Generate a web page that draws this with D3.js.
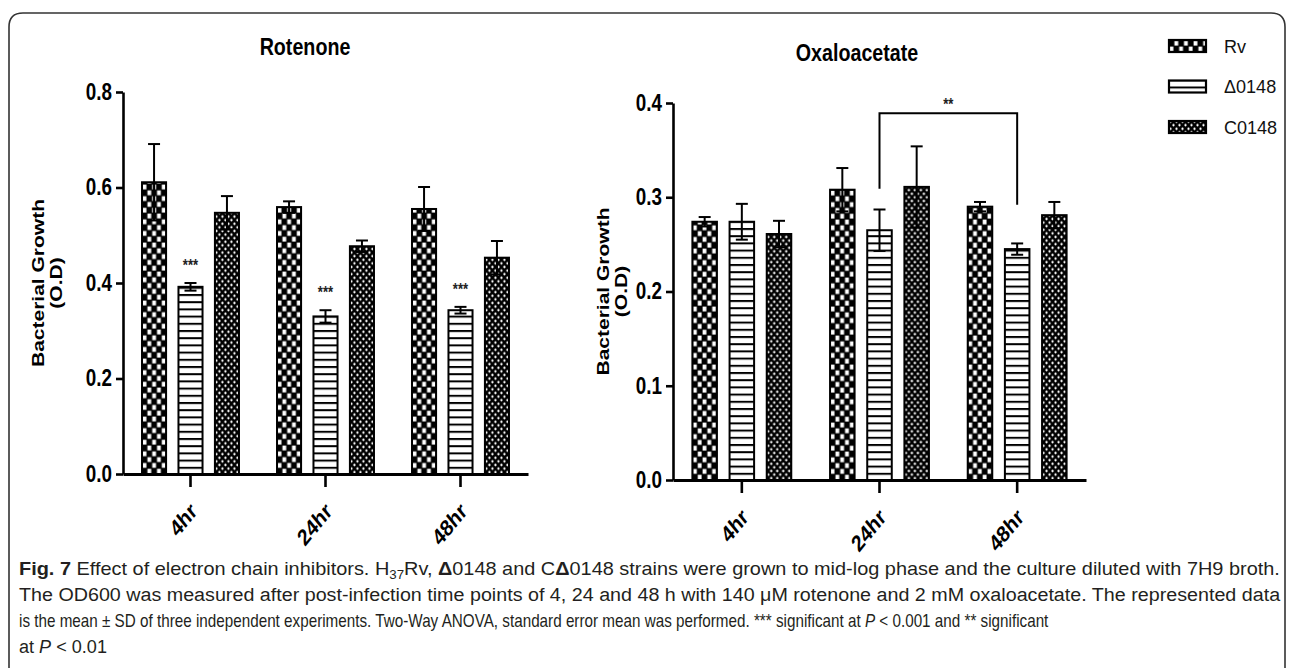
<!DOCTYPE html>
<html>
<head>
<meta charset="utf-8">
<script src="https://cdn.jsdelivr.net/npm/d3@7"></script>
<style>
  body { margin: 0; background: #fff; }
  svg { display: block; }
</style>
</head>
<body>
<svg id="fig" width="1292" height="668"></svg>
<script>
const groups = ["4hr", "24hr", "48hr"];
const strains = ["Rv", "Δ0148", "C0148"];

// Rotenone: mean O.D and SD per time point
const rotRv = [0.611, 0.559, 0.555];
const rotDel = [0.392, 0.330, 0.343];
const rotComp = [0.547, 0.477, 0.453];
const rotRvSd = [0.080, 0.012, 0.046];
const rotDelSd = [0.008, 0.013, 0.007];
const rotCompSd = [0.035, 0.012, 0.035];
const rotTicks = [0, 0.2, 0.4, 0.6, 0.8];
const rotStars = ["***", "***", "***"];   // over Δ0148 bars

// Oxaloacetate
const oxaRv = [0.274, 0.308, 0.290];
const oxaDel = [0.274, 0.265, 0.245];
const oxaComp = [0.261, 0.311, 0.281];
const oxaRvSd = [0.005, 0.023, 0.005];
const oxaDelSd = [0.019, 0.022, 0.006];
const oxaCompSd = [0.014, 0.043, 0.014];
const oxaTicks = [0, 0.1, 0.2, 0.3, 0.4];
// bracket between Δ0148 at 24hr and 48hr
const oxaBracketGroups = ["24hr", "48hr"];
const oxaBracketLevel = 0.389;
const oxaBracketFeet = [0.309, 0.292];
const oxaBracketLabel = "**";

const FONT = "'Liberation Sans', Arial, sans-serif";
const SX = 0.82;   // the original figure is squeezed sideways

const svg = d3.select("#fig");
const defs = svg.append("defs");

// fill patterns
const pRv = defs.append("pattern").attr("id", "pRv")
  .attr("patternUnits", "userSpaceOnUse").attr("width", 9.6).attr("height", 11.6);
pRv.append("rect").attr("width", 9.6).attr("height", 11.6).attr("fill", "#000");
pRv.append("rect").attr("x", 0.6).attr("y", 0.6).attr("width", 3.8).attr("height", 4.8).attr("fill", "#fff");
pRv.append("rect").attr("x", 5.4).attr("y", 6.4).attr("width", 3.8).attr("height", 4.8).attr("fill", "#fff");

const pDel = defs.append("pattern").attr("id", "pDel")
  .attr("patternUnits", "userSpaceOnUse").attr("width", 10).attr("height", 7.2);
pDel.append("rect").attr("width", 10).attr("height", 7.2).attr("fill", "#fff");
pDel.append("rect").attr("y", 0).attr("width", 10).attr("height", 2).attr("fill", "#000");

const pComp = defs.append("pattern").attr("id", "pComp")
  .attr("patternUnits", "userSpaceOnUse").attr("width", 6).attr("height", 7.2);
pComp.append("rect").attr("width", 6).attr("height", 7.2).attr("fill", "#000");
pComp.append("ellipse").attr("cx", 1.5).attr("cy", 1.8).attr("rx", 1.1).attr("ry", 1.3).attr("fill", "#fff");
pComp.append("ellipse").attr("cx", 4.5).attr("cy", 5.4).attr("rx", 1.1).attr("ry", 1.3).attr("fill", "#fff");

const fills = { "Rv": "url(#pRv)", "Δ0148": "url(#pDel)", "C0148": "url(#pComp)" };

// frame round the figure
svg.append("path")
  .attr("d", "M9,668 V27 Q9,13 23,13 H1271 Q1285,13 1285,27 V668")
  .attr("fill", "none").attr("stroke", "#333").attr("stroke-width", 1.6);

function drawPanel(p) {
  const y = d3.scaleLinear().domain([0, p.ticks[p.ticks.length - 1]]).range([p.base, p.top]);
  const x0 = d3.scaleBand().domain(groups).range([p.left, p.right])
    .paddingInner(0.19).paddingOuter(0.095);
  const x1 = d3.scaleBand().domain(strains).range([0, x0.bandwidth()])
    .paddingInner(0.34).paddingOuter(0.17);

  const means = [p.rv, p.del, p.comp];
  const sds = [p.rvSd, p.delSd, p.compSd];
  const rows = groups.flatMap((t, i) => strains.map((s, k) => ({ t, s, i, v: means[k][i], sd: sds[k][i] })));

  // bars
  const bar = svg.append("g").selectAll("g").data(rows).join("g")
    .attr("transform", d => `translate(${x0(d.t) + x1(d.s)},${p.base})`);
  bar.append("rect")
    .attr("y", d => y(d.v) - p.base)
    .attr("width", x1.bandwidth())
    .attr("height", d => p.base - y(d.v))
    .attr("fill", d => fills[d.s])
    .attr("stroke", "#000").attr("stroke-width", 2);

  // error bars
  const err = svg.append("g").attr("stroke", "#000").attr("stroke-width", 2)
    .selectAll("g").data(rows).join("g")
    .attr("transform", d => `translate(${x0(d.t) + x1(d.s) + x1.bandwidth() / 2},0)`);
  err.append("line").attr("y1", d => y(d.v - d.sd)).attr("y2", d => y(d.v + d.sd));
  err.append("line").attr("x1", -6).attr("x2", 6).attr("y1", d => y(d.v + d.sd)).attr("y2", d => y(d.v + d.sd));
  err.append("line").attr("x1", -6).attr("x2", 6).attr("y1", d => y(d.v - d.sd)).attr("y2", d => y(d.v - d.sd));

  // y axis
  const ya = svg.append("g").attr("transform", `translate(${p.left},0)`)
    .call(d3.axisLeft(y).tickValues(p.ticks).tickFormat(d3.format(".1f"))
      .tickSize(7).tickSizeOuter(0).tickPadding(4));
  ya.select(".domain").attr("stroke-width", 2.6);
  ya.selectAll(".tick line").attr("stroke-width", 2.6);
  ya.selectAll(".tick text")
    .attr("font-family", FONT).attr("font-weight", "bold").attr("font-size", 23).attr("fill", "#000")
    .attr("x", -11 / SX).attr("transform", `scale(${SX},1)`);

  // x axis
  const xa = svg.append("g").attr("transform", `translate(0,${p.base})`)
    .call(d3.axisBottom(x0).tickSize(13).tickSizeOuter(0).tickFormat(""));
  xa.select(".domain").attr("stroke-width", 3);
  xa.selectAll(".tick line").attr("stroke-width", 2.6);

  svg.append("g").selectAll("text").data(groups).join("text")
    .attr("transform", d => `translate(${x0(d) + x0.bandwidth() / 2 + 3},${p.base + 33}) scale(${SX},1) rotate(-45)`)
    .attr("text-anchor", "end").attr("dy", "0.35em")
    .attr("font-family", FONT).attr("font-weight", "bold").attr("font-size", 23)
    .text(d => d);

  // title
  svg.append("text")
    .attr("transform", `translate(${p.titleX},${p.titleY}) scale(${SX},1)`)
    .attr("text-anchor", "middle").attr("dy", "0.35em")
    .attr("font-family", FONT).attr("font-weight", "bold").attr("font-size", 24)
    .text(p.title);

  // y axis title, two lines
  const yMid = (p.base + p.top) / 2;
  [["Bacterial Growth", p.labelX], ["(O.D)", p.labelX + 18]].forEach(([txt, lx]) => {
    svg.append("text")
      .attr("transform", `translate(${lx},${yMid}) rotate(-90) scale(1,${SX})`)
      .attr("text-anchor", "middle").attr("dy", "0.35em")
      .attr("font-family", FONT).attr("font-weight", "bold").attr("font-size", 21)
      .text(txt);
  });

  return { x0, x1, y };
}

// Rotenone panel
const rot = drawPanel({
  title: "Rotenone", titleX: 305, titleY: 47,
  left: 123, right: 528, base: 474, top: 92, labelX: 38,
  ticks: rotTicks,
  rv: rotRv, del: rotDel, comp: rotComp, rvSd: rotRvSd, delSd: rotDelSd, compSd: rotCompSd
});
svg.append("g").selectAll("text").data(groups).join("text")
  .attr("transform", (d, i) => `translate(${rot.x0(d) + rot.x1("Δ0148") + rot.x1.bandwidth() / 2},${rot.y(rotDel[i] + rotDelSd[i]) - 12}) scale(${SX},1)`)
  .attr("text-anchor", "middle")
  .attr("font-family", FONT).attr("font-weight", "bold").attr("font-size", 16).attr("fill", "#222")
  .text((d, i) => rotStars[i]);

// Oxaloacetate panel
const oxa = drawPanel({
  title: "Oxaloacetate", titleX: 857, titleY: 53,
  left: 673, right: 1086, base: 480, top: 103, labelX: 603,
  ticks: oxaTicks,
  rv: oxaRv, del: oxaDel, comp: oxaComp, rvSd: oxaRvSd, delSd: oxaDelSd, compSd: oxaCompSd
});
const bx = oxaBracketGroups.map(g => oxa.x0(g) + oxa.x1("Δ0148") + oxa.x1.bandwidth() / 2);
svg.append("path")
  .attr("d", `M${bx[0]},${oxa.y(oxaBracketFeet[0])} V${oxa.y(oxaBracketLevel)} H${bx[1]} V${oxa.y(oxaBracketFeet[1])}`)
  .attr("fill", "none").attr("stroke", "#000").attr("stroke-width", 2);
svg.append("text")
  .attr("transform", `translate(${(bx[0] + bx[1]) / 2},${oxa.y(oxaBracketLevel) - 3}) scale(${SX},1)`)
  .attr("text-anchor", "middle")
  .attr("font-family", FONT).attr("font-weight", "bold").attr("font-size", 16).attr("fill", "#222")
  .text(oxaBracketLabel);

// legend
const leg = svg.append("g").selectAll("g").data(strains).join("g")
  .attr("transform", (d, i) => `translate(1169,${46 + i * 40.5})`);
leg.append("rect")
  .attr("y", -6).attr("width", 37).attr("height", 12)
  .attr("fill", d => fills[d]).attr("stroke", "#000").attr("stroke-width", 2.2);
leg.append("text")
  .attr("transform", `translate(55,0) scale(0.95,1)`)
  .attr("dy", "0.35em")
  .attr("font-family", FONT).attr("font-size", 19).attr("fill", "#111")
  .text(d => d);

// caption: every line squeezed to the width it takes in the figure
const capLines = [
  [["Fig. 7", "b"], [" Effect of electron chain inhibitors. H"], ["37", "sub"], ["Rv, ", "up"], ["Δ", "b"], ["0148 and C"], ["Δ", "b"],
   ["0148 strains were grown to mid-log phase and the culture diluted with 7H9 broth."]],
  [["The OD600 was measured after post-infection time points of 4, 24 and 48 h with 140 μM rotenone and 2 mM oxaloacetate. The represented data"]],
  [["is the mean ± SD of three independent experiments. Two-Way ANOVA, standard error mean was performed. *** significant at "], ["P", "i"],
   [" < 0.001 and ** significant"]],
  [["at "], ["P", "i"], [" < 0.01"]]
];
const capWidths = [1262, 1262, 1030, 88];
capLines.forEach((parts, li) => {
  const t = svg.append("text")
    .attr("font-family", "'Liberation Sans', sans-serif")
    .attr("font-size", 18).attr("fill", "#231f20");
  parts.forEach(([s, st]) => {
    const ts = t.append("tspan").text(s);
    if (st === "b") ts.attr("font-weight", "bold");
    if (st === "i") ts.attr("font-style", "italic");
    if (st === "sub") ts.attr("font-size", 12).attr("dy", 4);
    if (st === "up") ts.attr("dy", -4);
  });
  const w = t.node().getComputedTextLength();
  t.attr("transform", `translate(19,${575 + li * 26}) scale(${capWidths[li] / w},1)`);
});
</script>
</body>
</html>
